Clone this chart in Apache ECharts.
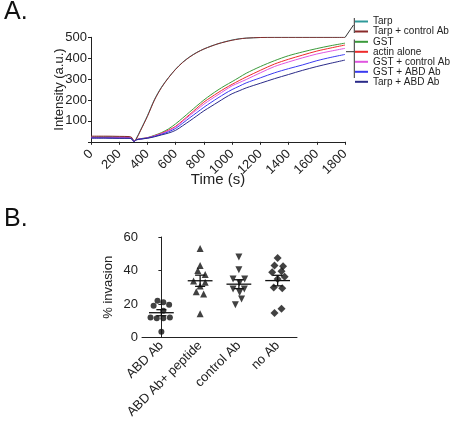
<!DOCTYPE html>
<html>
<head>
<meta charset="utf-8">
<script src="https://cdn.jsdelivr.net/npm/echarts@6/dist/echarts.min.js"></script>
<style>
html,body{margin:0;padding:0;background:#fff;}
#chart{width:452px;height:421px;}
</style>
</head>
<body>
<div id="chart"></div>
<script>
// ---------- Panel A data ----------
var timeSec = [0,100,200,270,290,305,320,350,400,450,500,550,600,650,700,750,800,850,900,950,1000,1050,1100,1200,1300,1400,1500,1600,1700,1800];
var tarp      = [24,24,23,23,18,4,15,55,125,203,262,308,348,381,407,428,444,458,469,479,487,493,496,499,500,500,500,500,500,500];
var tarpCtrl  = [27,27,26,25,20,3,12,52,122,200,260,307,347,380,406,427,444,457,469,478,486,492,496,499,500,500,500,500,500,500];
var gst       = [20,20,19,19,14,2,10,15,20,31,44,62,86,114,143,172,200,225,248,269,288,308,328,360,388,412,430,446,460,472];
var actin     = [21,21,20,20,15,2,10,14,19,29,41,56,74,102,131,161,190,213,235,256,275,293,310,342,372,395,415,434,449,463];
var gstCtrl   = [21,20,20,19,14,2,10,14,19,28,39,53,71,98,126,153,180,203,225,247,268,283,298,330,360,382,402,420,434,447];
var gstAbd    = [18,18,17,17,13,1,9,13,18,26,36,48,64,89,115,140,165,188,210,231,250,266,282,306,330,350,368,388,404,418];
var tarpAbd   = [18,18,17,17,13,1,9,13,17,24,33,42,55,77,100,124,148,169,190,211,230,244,258,280,302,322,342,360,376,391];
var xTicksA = [0,200,400,600,800,1000,1200,1400,1600,1800];
var yTicksA = [100,200,300,400,500];

// ---------- Panel B data ----------
var categories = ['ABD Ab','ABD Ab+ peptide','control Ab','no Ab'];
var abdVals      = [22,21,19.5,19,16,12,11.5,11.5,12,3.5];
var abdJitter    = [-0.1,0.05,0.2,-0.2,0.05,-0.28,-0.12,0.05,0.22,0];
var peptideVals  = [53.2,43,40,37.6,33.7,33,30.8,27.3,26,14.2];
var peptideJitter= [0,0,-0.06,0.13,-0.17,0.13,0,-0.1,0.09,0];
var controlVals  = [48,40.5,35,35,32.7,28.9,28.9,26.9,23,19.5];
var controlJitter= [0,0,-0.15,0.15,0.02,-0.15,0.14,0.02,0.07,-0.09];
var noAbVals     = [47.4,43,42.5,39,39.6,36.3,35,29.8,29.4,14.6,17.2];
var noAbJitter   = [0,-0.08,0.14,-0.14,0.1,0.18,0,-0.1,0.12,-0.08,0.1];
var yTicksB = [0,20,40,60];

var FONT = 'Arial, "Liberation Sans", sans-serif';
var AX = '#222';

function pairs(t, v){ return t.map(function(x,i){ return [x, v[i]]; }); }
function pts(ci, vals, jit){ return vals.map(function(v,i){ return [ci + jit[i], v]; }); }
function stats(vals){
  var n = vals.length, m = vals.reduce(function(a,b){return a+b;},0)/n;
  var ss = vals.reduce(function(a,b){return a+(b-m)*(b-m);},0);
  var sd = Math.sqrt(ss/(n-1));
  return [m, sd/Math.sqrt(n)];
}
var groups = [abdVals, peptideVals, controlVals, noAbVals];
var summary = groups.map(function(g,i){ var s = stats(g); return [i, s[0], s[1]]; });

var lineDefs = [
  ['Tarp', tarp, '#2f9a9a'],
  ['Tarp + control Ab', tarpCtrl, '#8a2a2a'],
  ['GST', gst, '#3a9a3a'],
  ['actin alone', actin, '#ee2a2a'],
  ['GST + control Ab', gstCtrl, '#e055e0'],
  ['GST + ABD Ab', gstAbd, '#3a3af0'],
  ['Tarp + ABD Ab', tarpAbd, '#2a2a88']
];

var series = lineDefs.map(function(d){
  return {
    name: d[0], type: 'line', xAxisIndex: 0, yAxisIndex: 0,
    data: pairs(timeSec, d[1]), showSymbol: false, symbol: 'none',
    lineStyle: {color: d[2], width: 1}, itemStyle: {color: d[2]},
    smooth: 0.3, animation: false
  };
});

var markers = [
  ['circle', 0, abdVals, abdJitter, 6],
  ['triangle', 0, peptideVals, peptideJitter, 7],
  ['triangle', 180, controlVals, controlJitter, 7],
  ['diamond', 0, noAbVals, noAbJitter, 8]
];
markers.forEach(function(m, ci){
  series.push({
    type: 'scatter', xAxisIndex: 2, yAxisIndex: 1,
    symbol: m[0], symbolRotate: m[1], symbolSize: m[4],
    itemStyle: {color: '#111'},
    data: pts(ci, m[2], m[3]), animation: false, silent: true
  });
});
series.push({
  type: 'custom', xAxisIndex: 2, yAxisIndex: 1, animation: false, silent: true,
  data: summary,
  renderItem: function(params, api){
    var c = api.value(0), m = api.value(1), s = api.value(2);
    var a = api.coord([c-0.32, m]), b = api.coord([c+0.32, m]);
    var top = api.coord([c, m+s]), bot = api.coord([c, m-s]);
    var tl = api.coord([c-0.13, m+s]), tr = api.coord([c+0.13, m+s]);
    var bl = api.coord([c-0.13, m-s]), br = api.coord([c+0.13, m-s]);
    var st = {stroke: '#111', lineWidth: 1.3};
    return {type: 'group', children: [
      {type:'line', shape:{x1:a[0],y1:a[1],x2:b[0],y2:b[1]}, style:st},
      {type:'line', shape:{x1:top[0],y1:top[1],x2:bot[0],y2:bot[1]}, style:st},
      {type:'line', shape:{x1:tl[0],y1:tl[1],x2:tr[0],y2:tr[1]}, style:st},
      {type:'line', shape:{x1:bl[0],y1:bl[1],x2:br[0],y2:br[1]}, style:st}
    ]};
  }
});

var axisText = {color: '#222', fontFamily: FONT, fontSize: 13};

var option = {
  animation: false,
  textStyle: {fontFamily: FONT},
  grid: [
    {left: 91, right: 107, top: 37.3, height: 104.5},
    {left: 142, width: 155, top: 237, height: 102.3}
  ],
  legend: [
    {data: ['Tarp','Tarp + control Ab'], orient: 'vertical', left: 355, top: 16.5, padding: 0,
     icon: 'rect', itemWidth: 13, itemHeight: 2, itemGap: 0,
     textStyle: {fontFamily: FONT, fontSize: 10, color: '#222', lineHeight: 9}},
    {data: ['GST','actin alone','GST + control Ab','GST + ABD Ab','Tarp + ABD Ab'], orient: 'vertical', left: 355, top: 36.8, padding: 0,
     icon: 'rect', itemWidth: 13, itemHeight: 2, itemGap: 0,
     textStyle: {fontFamily: FONT, fontSize: 10, color: '#222', lineHeight: 8.3}}
  ],
  xAxis: [
    {type: 'value', gridIndex: 0, min: 0, max: 1800, interval: 200,
     name: 'Time (s)', nameLocation: 'middle', nameGap: 31, nameMoveOverlap: false,
     nameTextStyle: {fontFamily: FONT, fontSize: 15, color: '#222'},
     axisLine: {lineStyle: {color: AX}}, axisTick: {length: 3, lineStyle: {color: AX}},
     splitLine: {show: false},
     axisLabel: Object.assign({rotate: 45, margin: 10, formatter: function(v){ return xTicksA.indexOf(v) >= 0 ? String(v) : ''; }}, axisText)},
    {type: 'category', gridIndex: 1, data: categories, boundaryGap: true,
     axisLine: {lineStyle: {color: AX}}, axisTick: {length: 3, alignWithLabel: true, lineStyle: {color: AX}},
     axisLabel: Object.assign({rotate: 45, margin: 6, interval: 0}, axisText)},
    {type: 'value', gridIndex: 1, min: -0.5, max: 3.5, show: false}
  ],
  yAxis: [
    {type: 'value', gridIndex: 0, min: 0, max: 500, interval: 100,
     name: 'Intensity (a.u.)', nameLocation: 'middle', nameGap: 25, nameMoveOverlap: false,
     nameTextStyle: {fontFamily: FONT, fontSize: 13, color: '#222'},
     axisLine: {show: true, lineStyle: {color: AX}}, axisTick: {show: true, length: 3, lineStyle: {color: AX}},
     splitLine: {show: false},
     axisLabel: Object.assign({margin: 4, formatter: function(v){ return yTicksA.indexOf(v) >= 0 ? String(v) : ''; }}, axisText)},
    {type: 'value', gridIndex: 1, min: 0, max: 60, interval: 20,
     name: '% invasion', nameLocation: 'middle', nameGap: 27, nameMoveOverlap: false,
     nameTextStyle: {fontFamily: FONT, fontSize: 13, color: '#222'},
     axisLine: {show: true, lineStyle: {color: AX}}, axisTick: {show: true, length: 3, lineStyle: {color: AX}},
     splitLine: {show: false},
     axisLabel: Object.assign({margin: 4, formatter: function(v){ return yTicksB.indexOf(v) >= 0 ? String(v) : ''; }}, axisText)}
  ],
  graphic: [
    {type: 'text', left: 4, top: 0, style: {text: 'A.', fontFamily: FONT, fontSize: 25, fill: '#111'}},
    {type: 'text', left: 4, top: 207, style: {text: 'B.', fontFamily: FONT, fontSize: 25, fill: '#111'}},
    {type: 'line', shape: {x1: 354.3, y1: 18, x2: 354.3, y2: 33}, style: {stroke: '#333', lineWidth: 1}},
    {type: 'line', shape: {x1: 345, y1: 37.5, x2: 353.5, y2: 25}, style: {stroke: '#333', lineWidth: 1}},
    {type: 'line', shape: {x1: 354.3, y1: 39.5, x2: 354.3, y2: 78}, style: {stroke: '#333', lineWidth: 1}},
    {type: 'line', shape: {x1: 346, y1: 51.7, x2: 354.3, y2: 51.7}, style: {stroke: '#333', lineWidth: 1}}
  ],
  series: series
};

var chart = echarts.init(document.getElementById('chart'), null, {renderer: 'canvas'});
chart.setOption(option);
</script>
</body>
</html>
